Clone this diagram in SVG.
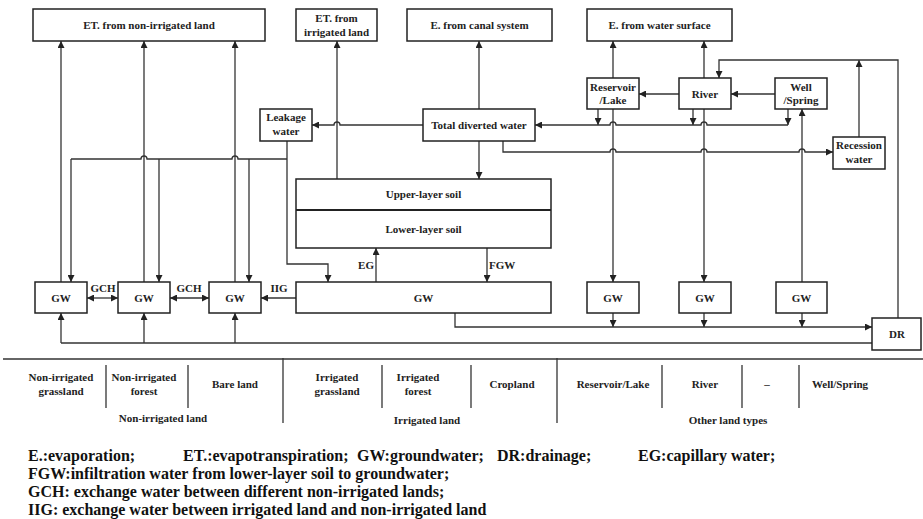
<svg xmlns="http://www.w3.org/2000/svg" width="923" height="519" viewBox="0 0 923 519">
<style>
.box{fill:#fff;stroke:#222;stroke-width:1.5}
.t{font-family:"Liberation Serif","Times New Roman",serif;font-weight:bold;font-size:11px;fill:#222;text-anchor:middle}
.lbl{font-family:"Liberation Serif","Times New Roman",serif;font-weight:bold;font-size:11px;fill:#222}
.leg{font-family:"Liberation Serif","Times New Roman",serif;font-weight:bold;font-size:16px;fill:#111}
.c{fill:none;stroke:#333;stroke-width:1.3}
.a{fill:none;stroke:#333;stroke-width:1.3;marker-end:url(#ah)}
.d{fill:none;stroke:#333;stroke-width:1.3;marker-end:url(#ah);marker-start:url(#ahs)}
.sep{stroke:#333;stroke-width:1.3}
</style>
<defs>
<marker id="ah" viewBox="0 0 10 10" refX="10" refY="5" markerWidth="7" markerHeight="7" markerUnits="userSpaceOnUse" orient="auto"><path d="M0,0 L10,5 L0,10 z" fill="#222"/></marker>
<marker id="ahs" viewBox="0 0 10 10" refX="10" refY="5" markerWidth="7" markerHeight="7" markerUnits="userSpaceOnUse" orient="auto-start-reverse"><path d="M0,0 L10,5 L0,10 z" fill="#222"/></marker>
</defs>

<g id="connectors">
<path class="a" d="M61,282 V41"/>
<path class="a" d="M144,282 V41"/>
<path class="a" d="M235,282 V41"/>
<path class="c" d="M287,159 H238 A3,3 0 0 0 232,159 H147 A3,3 0 0 0 141,159 H71"/>
<path class="a" d="M71,159 V282"/>
<path class="a" d="M159,159 V282"/>
<path class="a" d="M249,159 V282"/>
<path class="a" d="M287,141 V264 H328 V282"/>
<path class="a" d="M423,125 H340 A3,3 0 0 0 334,125 H312"/>
<path class="a" d="M337,179 V41"/>
<path class="a" d="M479,109 V41"/>
<path class="a" d="M479,141 V179"/>
<path class="a" d="M503,141 V152 H610 A3,3 0 0 1 616,152 H701 A3,3 0 0 1 707,152 H799 A3,3 0 0 1 805,152 H833"/>
<path class="a" d="M788,125 H707 A3,3 0 0 0 701,125 H616 A3,3 0 0 0 610,125 H535"/>
<path class="a" d="M598,109 V125"/>
<path class="a" d="M693,109 V125"/>
<path class="a" d="M788,109 V125"/>
<path class="a" d="M613,78 V41"/>
<path class="a" d="M704,78 V41"/>
<path class="a" d="M613,109 V282"/>
<path class="a" d="M704,109 V282"/>
<path class="a" d="M802,282 V109"/>
<path class="a" d="M679,94 H639"/>
<path class="a" d="M775,94 H731"/>
<path class="a" d="M859,137 V60"/>
<path class="a" d="M898,318 V60 H719 V78"/>
<path class="a" d="M337,219 V201"/>
<path class="a" d="M503,200 V220"/>
<path class="a" d="M376,282 V248"/>
<path class="a" d="M487,248 V282"/>
<path class="a" d="M296,298 H261"/>
<path class="d" d="M87,298 H118"/>
<path class="d" d="M170,298 H209"/>
<path class="a" d="M455,313 V327 H872"/>
<path class="a" d="M613,313 V327"/>
<path class="a" d="M704,313 V327"/>
<path class="a" d="M802,313 V327"/>
<path class="c" d="M872,343 H61"/>
<path class="a" d="M61,343 V313"/>
<path class="a" d="M144,343 V313"/>
<path class="a" d="M235,343 V313"/>
</g>

<g id="et-non-irrigated"><rect class="box" x="33" y="9" width="232" height="32"/><text class="t" x="149" y="29">ET. from non-irrigated land</text></g>
<g id="et-irrigated"><rect class="box" x="296" y="9" width="81" height="32"/><text class="t" x="336.5" y="22">ET. from</text><text class="t" x="336.5" y="36">irrigated land</text></g>
<g id="e-canal"><rect class="box" x="407" y="9" width="145" height="32"/><text class="t" x="479.5" y="29">E. from canal system</text></g>
<g id="e-surface"><rect class="box" x="587" y="9" width="145" height="32"/><text class="t" x="659.5" y="29">E. from water surface</text></g>
<g id="leakage"><rect class="box" x="260" y="109" width="52" height="32"/><text class="t" x="286" y="121">Leakage</text><text class="t" x="286" y="135">water</text></g>
<g id="total-diverted"><rect class="box" x="423" y="109" width="112" height="32"/><text class="t" x="479" y="129">Total diverted water</text></g>
<g id="reservoir"><rect class="box" x="587" y="78" width="52" height="31"/><text class="t" x="613" y="91">Reservoir</text><text class="t" x="613" y="104">/Lake</text></g>
<g id="river"><rect class="box" x="679" y="78" width="52" height="31"/><text class="t" x="705" y="98">River</text></g>
<g id="well"><rect class="box" x="775" y="78" width="52" height="31"/><text class="t" x="801" y="91">Well</text><text class="t" x="801" y="104">/Spring</text></g>
<g id="recession"><rect class="box" x="833" y="137" width="52" height="32"/><text class="t" x="859" y="149">Recession</text><text class="t" x="859" y="163">water</text></g>
<g id="soil"><rect class="box" x="296" y="179" width="255" height="69"/><line x1="296" y1="210" x2="551" y2="210" stroke="#222" stroke-width="2"/><text class="t" x="423.5" y="198">Upper-layer soil</text><text class="t" x="423.5" y="233">Lower-layer soil</text></g>
<g id="gw1"><rect class="box" x="35" y="282" width="52" height="31"/><text class="t" x="61" y="302">GW</text></g>
<g id="gw2"><rect class="box" x="118" y="282" width="52" height="31"/><text class="t" x="144" y="302">GW</text></g>
<g id="gw3"><rect class="box" x="209" y="282" width="52" height="31"/><text class="t" x="235" y="302">GW</text></g>
<g id="gw-irrigated"><rect class="box" x="296" y="282" width="255" height="31"/><text class="t" x="423.5" y="302">GW</text></g>
<g id="gw4"><rect class="box" x="587" y="282" width="52" height="31"/><text class="t" x="613" y="302">GW</text></g>
<g id="gw5"><rect class="box" x="679" y="282" width="52" height="31"/><text class="t" x="705" y="302">GW</text></g>
<g id="gw6"><rect class="box" x="776" y="282" width="51" height="31"/><text class="t" x="801.5" y="302">GW</text></g>
<g id="dr"><rect class="box" x="872" y="318" width="49" height="32"/><text class="t" x="897" y="338">DR</text></g>

<g id="labels">
<text class="t" x="103" y="292">GCH</text>
<text class="t" x="189" y="292">GCH</text>
<text class="t" x="279" y="292">IIG</text>
<text class="lbl" x="374" y="269" text-anchor="end">EG</text>
<text class="lbl" x="489" y="269">FGW</text>
</g>

<g id="table">
<line class="sep" x1="3" y1="359" x2="923" y2="359"/>
<line class="sep" x1="106" y1="365" x2="106" y2="408"/>
<line class="sep" x1="188" y1="365" x2="188" y2="408"/>
<line class="sep" x1="283" y1="358" x2="283" y2="423"/>
<line class="sep" x1="382" y1="365" x2="382" y2="408"/>
<line class="sep" x1="471" y1="365" x2="471" y2="408"/>
<line class="sep" x1="557" y1="358" x2="557" y2="423"/>
<line class="sep" x1="662" y1="365" x2="662" y2="408"/>
<line class="sep" x1="742" y1="365" x2="742" y2="408"/>
<line class="sep" x1="799" y1="365" x2="799" y2="408"/>
<text class="t" x="61" y="381">Non-irrigated</text><text class="t" x="61" y="395">grassland</text>
<text class="t" x="144" y="381">Non-irrigated</text><text class="t" x="144" y="395">forest</text>
<text class="t" x="235" y="388">Bare land</text>
<text class="t" x="337" y="381">Irrigated</text><text class="t" x="337" y="395">grassland</text>
<text class="t" x="418" y="381">Irrigated</text><text class="t" x="418" y="395">forest</text>
<text class="t" x="512" y="388">Cropland</text>
<text class="t" x="613" y="388">Reservoir/Lake</text>
<text class="t" x="705" y="388">River</text>
<text class="t" x="767" y="388">–</text>
<text class="t" x="840" y="388">Well/Spring</text>
<text class="t" x="163" y="422">Non-irrigated land</text>
<text class="t" x="427" y="424">Irrigated land</text>
<text class="t" x="728" y="424">Other land types</text>
</g>

<g id="legend">
<text class="leg" x="28" y="461">E.:evaporation;</text>
<text class="leg" x="183" y="461">ET.:evapotranspiration;</text>
<text class="leg" x="357" y="461">GW:groundwater;</text>
<text class="leg" x="497" y="461">DR:drainage;</text>
<text class="leg" x="638" y="461">EG:capillary water;</text>
<text class="leg" x="28" y="479">FGW:infiltration water from lower-layer soil to groundwater;</text>
<text class="leg" x="28" y="497">GCH: exchange water between different non-irrigated lands;</text>
<text class="leg" x="28" y="515">IIG: exchange water between irrigated land and non-irrigated land</text>
</g>
</svg>
